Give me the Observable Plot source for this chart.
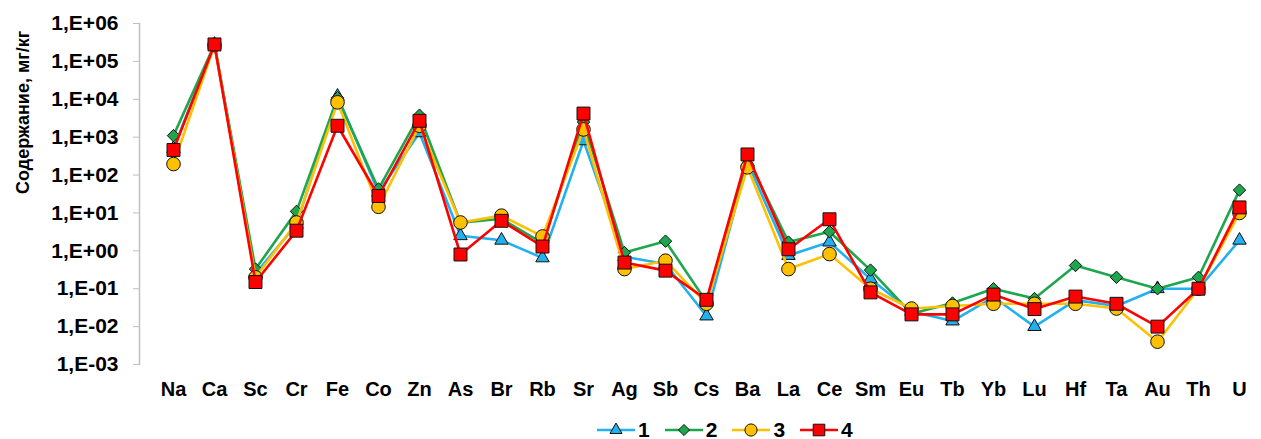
<!DOCTYPE html>
<html>
<head>
<meta charset="utf-8">
<script src="https://cdn.jsdelivr.net/npm/d3@7"></script>
<script src="https://cdn.jsdelivr.net/npm/@observablehq/plot@0.6"></script>
<style>
  body { margin: 0; background: #fff; font-family: "Liberation Sans", Arial, sans-serif; }
  #wrap { position: relative; width: 1261px; height: 439px; }
  #legend { position: absolute; left: 596px; top: 418px; display: flex; align-items: center; font-weight: bold; font-size: 21px; }
  .item { display: flex; align-items: center; margin-right: 14px; }
  .item span { margin-left: 2px; }
</style>
</head>
<body>
<div id="wrap"><div id="chart"></div><div id="legend"></div></div>
<script>
const categories = ["Na","Ca","Sc","Cr","Fe","Co","Zn","As","Br","Rb","Sr","Ag","Sb","Cs","Ba","La","Ce","Sm","Eu","Tb","Yb","Lu","Hf","Ta","Au","Th","U"];
const seriesNames = ["1","2","3","4"];
const series1 = [500, 2.8e5, 0.25, 5, 1.2e4, 35, 1300, 2.5, 1.9, 0.65, 800, 0.7, 0.45, 0.019, 220, 0.75, 1.7, 0.18, 0.025, 0.014, 0.06, 0.01, 0.05, 0.035, 0.1, 0.1, 1.9];
const series2 = [1100, 2.8e5, 0.33, 11, 1.1e4, 43, 3800, 5.5, 7, 1.6, 2500, 0.9, 1.8, 0.045, 280, 1.7, 3.2, 0.31, 0.022, 0.042, 0.1, 0.055, 0.41, 0.2, 0.1, 0.2, 40];
const series3 = [195, 2.7e5, 0.2, 5.6, 8300, 14.5, 2000, 5.6, 8.5, 2.4, 1600, 0.33, 0.55, 0.04, 160, 0.33, 0.82, 0.1, 0.03, 0.035, 0.04, 0.04, 0.04, 0.03, 0.004, 0.1, 10];
const series4 = [460, 2.8e5, 0.15, 3.4, 2000, 28, 2700, 0.8, 6.2, 1.3, 4200, 0.49, 0.3, 0.051, 350, 1.1, 6.8, 0.08, 0.021, 0.021, 0.07, 0.029, 0.062, 0.04, 0.01, 0.1, 14];
const yTicks = [1e-3, 1e-2, 1e-1, 1, 1e1, 1e2, 1e3, 1e4, 1e5, 1e6];
const yLabel = "Содержание, мг/кг";

const allSeries = [series1, series2, series3, series4];
const colors = ["#22b0ee", "#1ea64f", "#ffc000", "#ff0000"];
const symbols = ["triangle", "diamond2", "circle", "square"];
const radii = [5.0, 5.6, 6.8, 7.3];

const fmt = d => { const e = Math.round(Math.log10(d)); return "1,E" + (e < 0 ? "-" : "+") + String(Math.abs(e)).padStart(2, "0"); };

const marks = [
  Plot.frame({anchor: "left", stroke: "#bfbfbf", strokeWidth: 1.5}),
  Plot.axisY({ticks: yTicks, tickFormat: fmt, tickSize: 6, tickPadding: 15, stroke: "#bfbfbf", fontSize: 21, fontWeight: "bold", label: null}),
  Plot.axisX({tickSize: 0, tickPadding: 17, fontSize: 20, fontWeight: "bold", label: null}),
  Plot.text([yLabel], {frameAnchor: "left", dx: -116, rotate: -90, fontSize: 18, fontWeight: "bold", fill: "#000"})
];
allSeries.forEach((vals, i) => {
  const data = categories.map((c, j) => ({cat: c, v: vals[j]}));
  marks.push(Plot.line(data, {x: "cat", y: "v", stroke: colors[i], strokeWidth: 2.6}));
  marks.push(Plot.dot(data, {x: "cat", y: "v", symbol: () => symbols[i], r: radii[i], fill: colors[i], stroke: "#111", strokeWidth: 1}));
});

const chart = Plot.plot({
  width: 1261,
  height: 410,
  marginLeft: 139,
  marginRight: 0,
  marginTop: 23,
  marginBottom: 46,
  style: {fontFamily: "'Liberation Sans', Arial, sans-serif", color: "#000"},
  x: {type: "point", domain: categories, range: [161, 1251], padding: 0},
  y: {type: "log", domain: [1e-3, 1e6]},
  symbol: {type: "identity"},
  marks
});
document.getElementById("chart").appendChild(chart);

// legend
const legend = d3.select("#legend");
const symMap = {triangle: d3.symbolTriangle, diamond2: d3.symbolDiamond2, circle: d3.symbolCircle, square: d3.symbolSquare};
seriesNames.forEach((name, i) => {
  const item = legend.append("div").attr("class", "item");
  const svg = item.append("svg").attr("width", 40).attr("height", 20);
  svg.append("line").attr("x1", 1).attr("x2", 39).attr("y1", 10).attr("y2", 10).attr("stroke", colors[i]).attr("stroke-width", 2.6);
  svg.append("path").attr("transform", "translate(20,10)")
    .attr("d", d3.symbol(symMap[symbols[i]], Math.PI * radii[i] * radii[i] * 0.8)())
    .attr("fill", colors[i]).attr("stroke", "#111").attr("stroke-width", 1);
  item.append("span").text(name);
});
</script>
</body>
</html>
